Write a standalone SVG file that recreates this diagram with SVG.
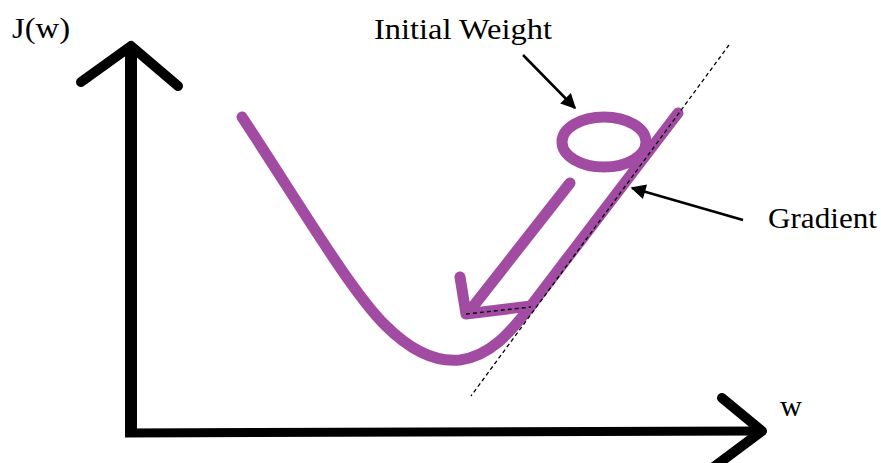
<svg xmlns="http://www.w3.org/2000/svg" width="881" height="463" viewBox="0 0 881 463">
<style>
.axis{fill:none;stroke:#000;stroke-linecap:round;stroke-linejoin:round}
.axis.butt{stroke-linecap:butt}
.purple{fill:none;stroke:#A24BA3;stroke-width:11;stroke-linecap:round;stroke-linejoin:round}
.label{font-family:"Liberation Serif","Times New Roman",serif;font-size:29px;fill:#000}
.ann{stroke:#000;stroke-width:2.5;fill:none}
.dash{stroke:#000;stroke-width:1.3;stroke-dasharray:4 3;fill:none}
</style>
<defs>
<marker id="ah" viewBox="0 0 10 10" refX="9" refY="5" markerWidth="7" markerHeight="6" markerUnits="strokeWidth" orient="auto">
<path d="M0,0 L10,5 L0,10 z" fill="#000"/>
</marker>
</defs>
<rect width="881" height="463" fill="#fff"/>
<g id="y-axis">
<line x1="131" y1="46" x2="131" y2="437" class="axis butt" stroke-width="12"/>
<polyline points="81,82 131,46 178,86" class="axis" stroke-width="10"/>
</g>
<g id="x-axis">
<line x1="125" y1="433" x2="760" y2="431" class="axis butt" stroke-width="9"/>
<polyline points="722,398 762,431 703,475" class="axis" stroke-width="10"/>
</g>
<g id="cost-curve">
<path class="purple" d="M242,117 C300,205 350,290 385,325 C415,355 440,362 460,360 C490,356 510,333 530,307 L678,113"/>
</g>
<g id="initial-weight-circle">
<ellipse cx="604" cy="142" rx="42" ry="25" class="purple"/>
</g>
<g id="descent-arrow">
<line x1="570" y1="183" x2="468" y2="313" class="purple"/>
<polyline points="460,277 466,314 531,306" class="purple"/>
<line x1="466" y1="314" x2="531" y2="307" class="dash"/>
</g>
<g id="tangent">
<line x1="729" y1="45" x2="471" y2="396" class="dash"/>
</g>
<g id="connectors">
<line x1="523" y1="55" x2="575" y2="108" class="ann" marker-end="url(#ah)"/>
<line x1="743" y1="220" x2="632" y2="188" class="ann" marker-end="url(#ah)"/>
</g>
<g id="labels">
<text x="12" y="38" class="label" textLength="58" lengthAdjust="spacingAndGlyphs">J(w)</text>
<text x="374" y="39" class="label" textLength="178" lengthAdjust="spacingAndGlyphs">Initial Weight</text>
<text x="768" y="228" class="label" textLength="109" lengthAdjust="spacingAndGlyphs">Gradient</text>
<text x="780" y="416" class="label" textLength="22" lengthAdjust="spacingAndGlyphs">w</text>
</g>
</svg>
